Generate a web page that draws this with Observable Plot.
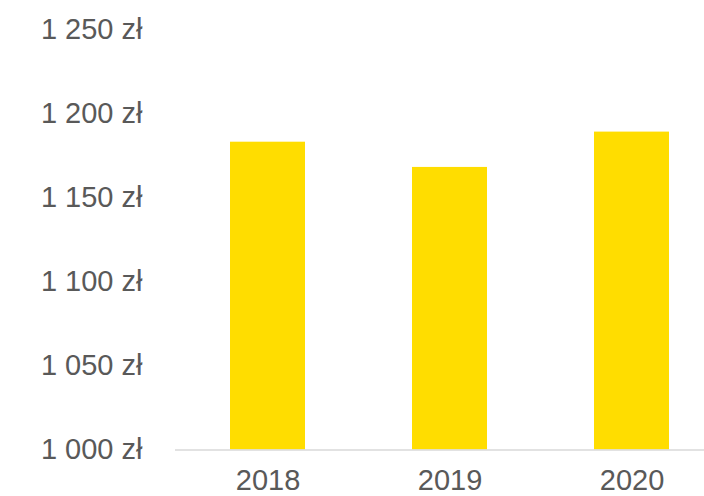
<!DOCTYPE html>
<html>
<head>
<meta charset="utf-8">
<script src="https://cdn.jsdelivr.net/npm/d3@7"></script>
<script src="https://cdn.jsdelivr.net/npm/@observablehq/plot@0.6"></script>
<style>
  html, body { margin: 0; padding: 0; background: #ffffff; }
  #chart svg { display: block; overflow: visible; }
</style>
</head>
<body>
<div id="chart"></div>
<script>
const years = ["2018", "2019", "2020"];
const values = [1183, 1168, 1189];
const yTicks = [1000, 1050, 1100, 1150, 1200, 1250];
const yTickLabels = ["1 000 zł", "1 050 zł", "1 100 zł", "1 150 zł", "1 200 zł", "1 250 zł"];

const data = years.map((y, i) => ({year: y, value: values[i]}));
const labelOf = new Map(yTicks.map((t, i) => [t, yTickLabels[i]]));

const chart = Plot.plot({
  width: 704,
  height: 496,
  marginLeft: 175,
  marginRight: -19,
  marginTop: 29,
  marginBottom: 46.5,
  style: {fontFamily: "'Liberation Sans', Arial, sans-serif", fontSize: "29px", color: "#595959", background: "#ffffff"},
  x: {domain: years, paddingInner: 0.59, paddingOuter: 0.295, label: null},
  y: {domain: [1000, 1250], label: null},
  marks: [
    Plot.barY(data, {x: "year", y1: 1000, y2: "value", fill: "#FFDD00"}),
    Plot.ruleY([1000], {stroke: "#d9d9d9", strokeWidth: 1.5}),
    Plot.axisY({ticks: yTicks, tickFormat: d => labelOf.get(d), tickSize: 0, tickPadding: 33, fill: "#595959", fontSize: 29, label: null}),
    Plot.axisX({tickSize: 0, tickPadding: 19, fill: "#595959", fontSize: 29, label: null})
  ]
});
document.getElementById("chart").appendChild(chart);
</script>
</body>
</html>
